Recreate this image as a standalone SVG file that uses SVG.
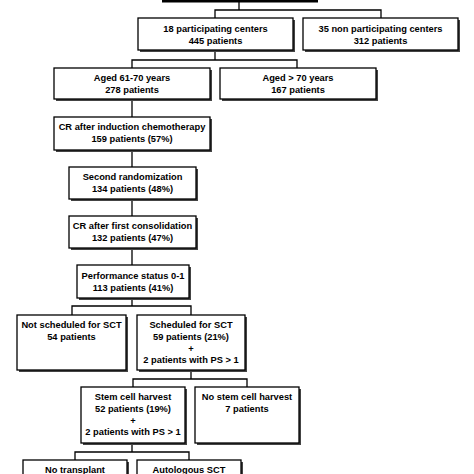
<svg xmlns="http://www.w3.org/2000/svg" width="474" height="474" viewBox="0 0 474 474">
<defs>
<style>
.box{fill:#fff;stroke:#000;stroke-width:1.3}
.sh{fill:#444}
.t{font-family:"Liberation Sans",Arial,sans-serif;font-weight:bold;font-size:9.3px;fill:#000;text-anchor:middle}
.c{fill:none;stroke:#000;stroke-width:1.3}
</style>
</defs>
<rect width="474" height="474" fill="#fff"/>
<g id="connectors">
<path class="c" d="M239 2V10M215 18V10H381V18"/>
<path class="c" d="M215 50V60M132 68V60H297V68"/>
<path class="c" d="M132 99V117M132 150V167M132 199V216M132 248V265"/>
<path class="c" d="M132 298V306M72 315V306H191V315"/>
<path class="c" d="M191 370V379M133 387V379H247V387"/>
<path class="c" d="M132 443V452M75 460V452H189V460"/>
</g>
<g id="top"><rect x="162" y="-10" width="156" height="12.5" fill="#000"/></g>
<g id="n1"><rect class="sh" x="140" y="20" width="155" height="32"/><rect class="box" x="138" y="18" width="155" height="32"/><text class="t" x="215.5" y="32.3">18 participating centers</text><text class="t" x="215.5" y="43.5">445 patients</text></g>
<g id="n2"><rect class="sh" x="305" y="20" width="155" height="32"/><rect class="box" x="303" y="18" width="155" height="32"/><text class="t" x="380.5" y="32.3">35 non participating centers</text><text class="t" x="380.5" y="43.5">312 patients</text></g>
<g id="n3"><rect class="sh" x="56" y="70" width="156" height="31"/><rect class="box" x="54" y="68" width="156" height="31"/><text class="t" x="132" y="81.3">Aged 61-70 years</text><text class="t" x="132" y="92.5">278 patients</text></g>
<g id="n4"><rect class="sh" x="222" y="70" width="156" height="31"/><rect class="box" x="220" y="68" width="156" height="31"/><text class="t" x="298" y="81.3">Aged &gt; 70 years</text><text class="t" x="298" y="92.5">167 patients</text></g>
<g id="n5"><rect class="sh" x="56" y="119" width="156" height="33"/><rect class="box" x="54" y="117" width="156" height="33"/><text class="t" x="132" y="130.3">CR after induction chemotherapy</text><text class="t" x="132" y="142.3">159 patients (57%)</text></g>
<g id="n6"><rect class="sh" x="71" y="169" width="127" height="32"/><rect class="box" x="69" y="167" width="127" height="32"/><text class="t" x="132.5" y="180.3">Second randomization</text><text class="t" x="132.5" y="191.5">134 patients (48%)</text></g>
<g id="n7"><rect class="sh" x="71" y="218" width="127" height="32"/><rect class="box" x="69" y="216" width="127" height="32"/><text class="t" x="132.5" y="229.3">CR after first consolidation</text><text class="t" x="132.5" y="240.8">132 patients (47%)</text></g>
<g id="n8"><rect class="sh" x="79" y="267" width="112" height="33"/><rect class="box" x="77" y="265" width="112" height="33"/><text class="t" x="133" y="279.3">Performance status 0-1</text><text class="t" x="133" y="290.5">113 patients (41%)</text></g>
<g id="n9"><rect class="sh" x="19" y="317" width="109" height="55"/><rect class="box" x="17" y="315" width="109" height="55"/><text class="t" x="71.5" y="328.3">Not scheduled for SCT</text><text class="t" x="71.5" y="340">54 patients</text></g>
<g id="n10"><rect class="sh" x="139" y="317" width="108" height="55"/><rect class="box" x="137" y="315" width="108" height="55"/><text class="t" x="191" y="328.3">Scheduled for SCT</text><text class="t" x="191" y="340">59 patients (21%)</text><text class="t" x="191" y="351.5">+</text><text class="t" x="191" y="363.3">2 patients with PS &gt; 1</text></g>
<g id="n11"><rect class="sh" x="83" y="389" width="104" height="56"/><rect class="box" x="81" y="387" width="104" height="56"/><text class="t" x="133" y="400.3">Stem cell harvest</text><text class="t" x="133" y="412.3">52 patients (19%)</text><text class="t" x="133" y="423.8">+</text><text class="t" x="133" y="435.3">2 patients with PS &gt; 1</text></g>
<g id="n12"><rect class="sh" x="197" y="389" width="104" height="56"/><rect class="box" x="195" y="387" width="104" height="56"/><text class="t" x="247" y="400.3">No stem cell harvest</text><text class="t" x="247" y="412.3">7 patients</text></g>
<g id="n13"><rect class="sh" x="25" y="462" width="104" height="30"/><rect class="box" x="23" y="460" width="104" height="30"/><text class="t" x="75" y="473.3">No transplant</text></g>
<g id="n14"><rect class="sh" x="139" y="462" width="104" height="30"/><rect class="box" x="137" y="460" width="104" height="30"/><text class="t" x="189" y="473.3">Autologous SCT</text></g>
</svg>
